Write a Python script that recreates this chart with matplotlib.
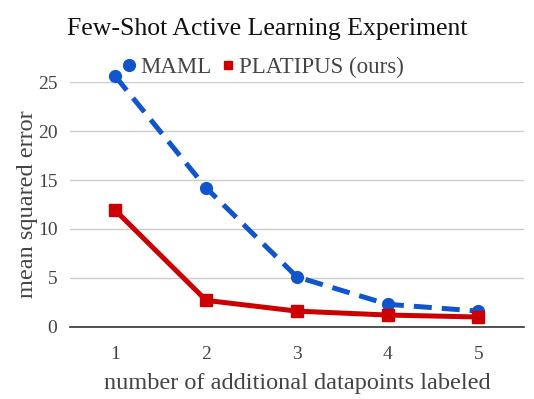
import matplotlib
matplotlib.use("Agg")
import matplotlib.pyplot as plt
from matplotlib.lines import Line2D

plt.rcParams['font.family'] = ['Liberation Serif', 'DejaVu Serif']

x = [1, 2, 3, 4, 5]
maml = [25.6, 14.2, 5.1, 2.3, 1.6]
platipus = [11.9, 2.7, 1.6, 1.2, 1.0]
xticks = [1, 2, 3, 4, 5]
yticks = [0, 5, 10, 15, 20, 25]

blue = '#1155cc'
red = '#cc0000'

fig = plt.figure(figsize=(5.34, 3.99), dpi=100)
ax = fig.add_axes([0.131, 0.181, 0.85, 0.613])

ax.plot(x, maml, color=blue, lw=3.6, ls=(0, (3.6, 2)), marker='o', ms=8.5,
        clip_on=False, zorder=3)
ax.plot(x, platipus, color=red, lw=3.6, marker='s', ms=8, clip_on=False, zorder=4)

ax.set_xlim(0.5, 5.5)
ax.set_ylim(0, 25)
ax.set_xticks(xticks)
ax.set_yticks(yticks)
ax.grid(axis='y', color='#cccccc', lw=1)
ax.set_axisbelow(True)
for s in ['top', 'right', 'left']:
    ax.spines[s].set_visible(False)
ax.spines['bottom'].set_color('#333333')
ax.spines['bottom'].set_linewidth(1.2)
ax.tick_params(length=0, labelsize=14, colors='#444444', pad=9)
ax.tick_params(axis='x', pad=14)

ax.set_ylabel('mean squared error', fontsize=17.5, color='#444444', labelpad=0)
ax.set_xlabel('number of additional datapoints labeled', fontsize=17.5, color='#444444', labelpad=7)
fig.text(0.5, 0.928, 'Few-Shot Active Learning Experiment', ha='center', va='center',
         fontsize=18.5, color='#111111')

handles = [Line2D([], [], color=blue, marker='o', ls='none', ms=8.5),
           Line2D([], [], color=red, marker='s', ls='none', ms=5.5)]
fig.legend(handles, ['MAML', 'PLATIPUS (ours)'], loc='center', bbox_to_anchor=(0.493, 0.832),
           ncol=2, frameon=False, fontsize=16.5, handlelength=0.6, handletextpad=0.2,
           columnspacing=0.4, labelcolor='#444444')

fig.savefig('out.png', dpi=100)
